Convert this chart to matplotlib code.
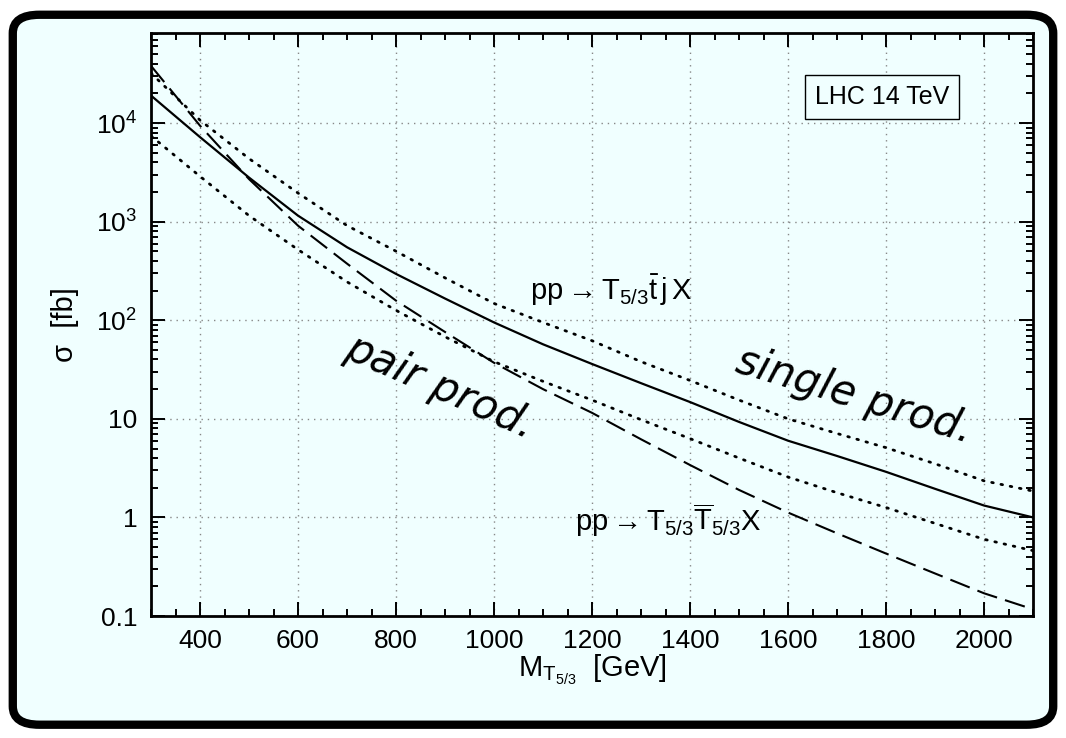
import matplotlib
matplotlib.use("Agg")
import matplotlib.pyplot as plt
from matplotlib.patches import FancyBboxPatch
from matplotlib.ticker import FixedLocator, MultipleLocator, LogLocator, NullFormatter

plt.rcParams['font.family'] = ['Liberation Sans', 'DejaVu Sans']
plt.rcParams['mathtext.fontset'] = 'custom'
plt.rcParams['mathtext.rm'] = 'Liberation Sans'
plt.rcParams['mathtext.it'] = 'Liberation Sans:italic'
plt.rcParams['mathtext.bf'] = 'Liberation Sans:bold'

# mass points [GeV] and cross sections [fb]
mass = [300, 400, 500, 600, 700, 800, 900, 1000, 1100, 1200,
        1300, 1400, 1500, 1600, 1700, 1800, 1900, 2000, 2100]
sigma_single = [1.9e4, 7200, 2800, 1150, 550, 295, 166, 95, 57, 36,
                23, 14.8, 9.3, 6.0, 4.2, 2.9, 1.95, 1.32, 1.0]
sigma_single_hi = [3.2e4, 1.07e4, 4360, 1950, 912, 501, 269, 148, 95, 62,
                   38, 24.5, 15.5, 10, 7.1, 5.1, 3.5, 2.35, 1.85]
sigma_single_lo = [7400, 2880, 1150, 520, 245, 126, 68, 38, 24, 15.5,
                   9.8, 6.3, 4.0, 2.57, 1.78, 1.26, 0.87, 0.60, 0.46]
sigma_pair = [3.8e4, 9400, 2700, 910, 375, 158, 76, 37, 20, 11.5,
              6.2, 3.4, 1.9, 1.12, 0.69, 0.43, 0.27, 0.17, 0.117]

xticks = [400, 600, 800, 1000, 1200, 1400, 1600, 1800, 2000]
yticks = [0.1, 1, 10, 1e2, 1e3, 1e4]
ytick_labels = ['0.1', '1', '10', r'$10^2$', r'$10^3$', r'$10^4$']

bg = '#f0ffff'

fig = plt.figure(figsize=[10.66, 7.38], dpi=100)
fig.patch.set_facecolor('white')

# photo-like frame
frame = FancyBboxPatch((0.012, 0.018), 0.976, 0.962,
                       boxstyle='round,pad=0,rounding_size=0.025',
                       transform=fig.transFigure, facecolor=bg,
                       edgecolor='black', linewidth=6, zorder=-10)
fig.patches.append(frame)

ax = fig.add_axes([0.1417, 0.1653, 0.8274, 0.79])
ax.patch.set_alpha(0)

ax.plot(mass, sigma_single, 'k-', linewidth=1.6)
ax.plot(mass, sigma_single_hi, 'k', linestyle=(0, (0.6, 2.8)), linewidth=2.0,
        dash_capstyle='round')
ax.plot(mass, sigma_single_lo, 'k', linestyle=(0, (0.6, 2.8)), linewidth=2.0,
        dash_capstyle='round')
ax.plot(mass, sigma_pair, 'k', linestyle=(0, (10, 4)), linewidth=1.5)

ax.set_yscale('log')
ax.set_xlim(300, 2100)
ax.set_ylim(0.1, 8.2e4)

ax.xaxis.set_major_locator(FixedLocator(xticks))
ax.xaxis.set_minor_locator(MultipleLocator(50))
ax.yaxis.set_major_locator(FixedLocator(yticks))
ax.set_yticklabels(ytick_labels)
ax.yaxis.set_minor_locator(LogLocator(base=10, subs=range(2, 10), numticks=20))
ax.yaxis.set_minor_formatter(NullFormatter())

ax.tick_params(which='both', direction='in', top=True, right=True,
               labelsize=19, width=1.4)
ax.tick_params(axis='x', which='major', length=10, pad=9)
ax.tick_params(axis='y', which='major', length=10, pad=10)
ax.tick_params(which='minor', length=5)
for s in ax.spines.values():
    s.set_linewidth(2)

ax.grid(True, which='major', color='#888888', linestyle=(0, (1, 3.5)), linewidth=1)

ax.set_xlabel(r'$\mathrm{M}_{\mathrm{T}_{\mathrm{5/3}}}$  [GeV]', fontsize=21, labelpad=0)
ax.set_ylabel('σ  [fb]', fontsize=21, labelpad=12)

ax.text(0.829, 0.89, 'LHC 14 TeV', transform=ax.transAxes, fontsize=18,
        ha='center', va='center',
        bbox=dict(boxstyle='square,pad=0.4', facecolor=bg, edgecolor='black', linewidth=1))

ax.text(1073, 200, r'$\mathrm{pp}\rightarrow\mathrm{T}_{5/3}\bar{\mathrm{t}}\,\mathrm{j}\,\mathrm{X}$',
        fontsize=21, ha='left', va='center')
ax.text(1165, 0.93, r'$\mathrm{pp}\rightarrow\mathrm{T}_{5/3}\overline{\mathrm{T}}_{5/3}\mathrm{X}$',
        fontsize=21, ha='left', va='center')

hand = dict(family=['DejaVu Sans'], style='oblique', fontsize=30, ha='center',
            va='center', rotation_mode='anchor')
ax.text(1735, 17, 'single prod.', rotation=-17, **hand)
ax.text(890, 21, 'pair prod.', rotation=-24, **hand)

plt.savefig('out.png', dpi=100, facecolor=fig.get_facecolor())
